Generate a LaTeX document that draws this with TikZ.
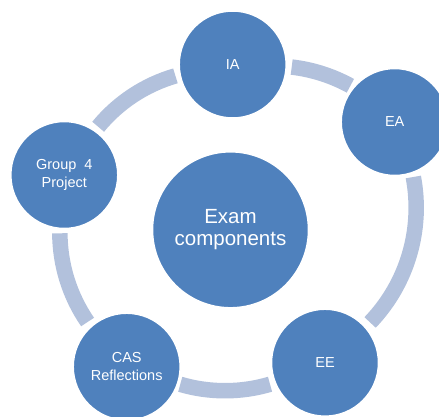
\documentclass[tikz,border=0pt]{standalone}
\usepackage{fontspec}
\setmainfont{Liberation Sans}
\definecolor{nodeblue}{HTML}{4F81BD}
\definecolor{ringblue}{HTML}{B2C1DC}
\begin{document}
\begin{tikzpicture}[x=1pt,y=-1pt,
  comp/.style={circle, fill=nodeblue, draw=white, line width=1.5pt, inner sep=0pt,
    minimum size=107pt, text=white, align=center,
    font=\fontsize{14.5}{17.5}\selectfont},
  hub/.style={comp, minimum size=156pt, font=\fontsize{20.5}{22.5}\selectfont},
  ring/.style={draw=ringblue, line width=15.5pt}]
\useasboundingbox (0,0) rectangle (439,416);
\clip (0,0) rectangle (439,416);
% centres of the ring arcs
\coordinate (c1) at (273.3,226.0);
\coordinate (c2) at (250.5,207.75);
\coordinate (c3) at (225,232.25);
\coordinate (c4) at (217.45,232.75);
\coordinate (c5) at (218.7,225.75);
% ring arcs (between neighbouring circles)
\draw[ring] (c1) ++(-83.4:160) arc[start angle=-83.4, end angle=-61.2, radius=160];
\draw[ring] (c2) ++(-10.7:165.7) arc[start angle=-10.7, end angle=43.8, radius=165.7];
\draw[ring] (c3) ++(73.5:158.5) arc[start angle=73.5, end angle=106.4, radius=158.5];
\draw[ring] (c4) ++(145.5:157.6) arc[start angle=145.5, end angle=179.8, radius=157.6];
\draw[ring] (c5) ++(-140.6:156) arc[start angle=-140.6, end angle=-106.1, radius=156];
% circles
\node[hub] (hub) at (230.5,229.8) {Exam\\components};
\node[comp] (ia) at (232.7,64.5) {IA};
\node[comp] (ea) at (394.7,122) {EA};
\node[comp] (ee) at (325,362.7) {EE};
\node[comp] (cas) at (126.7,366.7) {CAS\\Reflections};
\node[comp] (g4) at (64.3,175) {Group\ \ 4\\Project};
\end{tikzpicture}
\end{document}
